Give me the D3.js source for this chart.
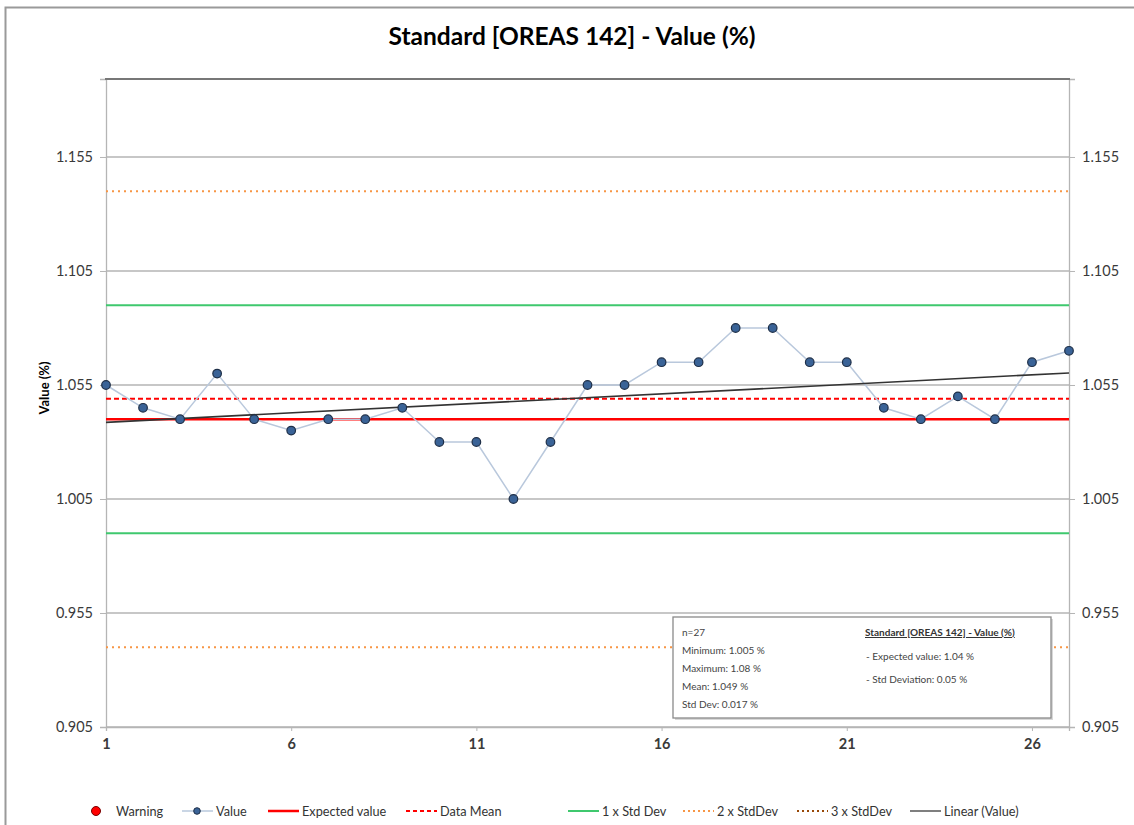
<!DOCTYPE html>
<html>
<head>
<meta charset="utf-8">
<script src="https://cdn.jsdelivr.net/npm/d3@7"></script>
<style>
  body { margin: 0; background: #fff; }
  text { font-family: Lato, "Open Sans", sans-serif; }
</style>
</head>
<body>
<figure id="qc" style="margin:0"></figure>
<script>
// sample number and assay value (%)
const samples = d3.range(1, 28);
const values = [1.055, 1.045, 1.04, 1.06, 1.04, 1.035, 1.04, 1.04, 1.045, 1.03,
  1.03, 1.005, 1.03, 1.055, 1.055, 1.065, 1.065, 1.08, 1.08, 1.065,
  1.065, 1.045, 1.04, 1.05, 1.04, 1.065, 1.07];
const expected = 1.04;
const stdDev = 0.05;
const dataMean = 1.049;
const yTicks = [0.905, 0.955, 1.005, 1.055, 1.105, 1.155];
const xTicks = [1, 6, 11, 16, 21, 26];
const statsLines = ["n=27", "Minimum: 1.005 %", "Maximum: 1.08 %", "Mean: 1.049 %", "Std Dev: 0.017 %"];
const stdLines = ["- Expected value: 1.04 %", "- Std Deviation: 0.05 %"];
const legendNames = ["Warning", "Value", "Expected value", "Data Mean", "1 x Std Dev", "2 x StdDev", "3 x StdDev", "Linear (Value)"];

const W = 1134, H = 825;
const mLeft = 106, mRight = 1069, mTop = 79, mBottom = 727;

const svg = d3.select("figure#qc").append("svg")
  .attr("width", W).attr("height", H);

// outer frame
svg.append("path").attr("d", `M5.5,${H} V7.5 H${W}`)
  .attr("fill", "none").attr("stroke", "#9a9a9a").attr("stroke-width", 2);

const x = d3.scaleLinear().domain([1, 27]).range([mLeft, mRight]);
const y = d3.scaleLinear().domain([0.905, 1.1892]).range([mBottom, mTop]);

// title
svg.append("text").attr("x", 572).attr("y", 45).attr("text-anchor", "middle")
  .style("font-size", "24.5px").style("font-weight", "bold").text("Standard [OREAS 142] - Value (%)");

// grid
svg.append("g").selectAll("line").data(yTicks).enter().append("line")
  .attr("x1", mLeft).attr("x2", mRight)
  .attr("y1", d => y(d)).attr("y2", d => y(d))
  .attr("stroke", "#b5b5b5").attr("stroke-width", 1.3);

// axes
const fmt = d3.format(".3f");
const yl = svg.append("g").attr("transform", `translate(${mLeft},0)`)
  .call(d3.axisLeft(y).tickValues(yTicks).tickFormat(fmt).tickSize(6).tickPadding(7));
const yr = svg.append("g").attr("transform", `translate(${mRight},0)`)
  .call(d3.axisRight(y).tickValues(yTicks).tickFormat(fmt).tickSize(6).tickPadding(7));
const xa = svg.append("g").attr("transform", `translate(0,${mBottom})`)
  .call(d3.axisBottom(x).tickValues(xTicks).tickFormat(d3.format("d")).tickSize(4).tickPadding(8));
[yl, yr, xa].forEach(g => {
  g.select(".domain").attr("stroke", "#b5b5b5").attr("stroke-width", 1.3);
  g.selectAll(".tick line").attr("stroke", "#b5b5b5");
  g.selectAll("text").style("font-size", "14.5px").attr("fill", "#3a3a3a");
});
xa.selectAll("text").style("font-weight", "bold");
svg.append("line").attr("x1", mLeft - 1).attr("x2", mRight + 1).attr("y1", mTop).attr("y2", mTop)
  .attr("stroke", "#777").attr("stroke-width", 2);

svg.append("text").attr("transform", "translate(49,388) rotate(-90)")
  .attr("text-anchor", "middle").style("font-size", "13px").style("font-weight", "bold")
  .text("Value (%)");

// reference lines
const refs = [
  { v: expected + stdDev * 2, c: "#f79646", w: 2, dash: "2,4" },
  { v: expected - stdDev * 2, c: "#f79646", w: 2, dash: "2,4" },
  { v: expected + stdDev, c: "#3fc86e", w: 2, dash: null },
  { v: expected - stdDev, c: "#3fc86e", w: 2, dash: null },
  { v: dataMean, c: "#ff0000", w: 2, dash: "5,3" },
  { v: expected, c: "#ff0000", w: 2.5, dash: null }
];
svg.append("g").selectAll("line").data(refs).enter().append("line")
  .attr("x1", mLeft).attr("x2", mRight)
  .attr("y1", d => y(d.v)).attr("y2", d => y(d.v))
  .attr("stroke", d => d.c).attr("stroke-width", d => d.w)
  .attr("stroke-dasharray", d => d.dash);

// value series
const pts = samples.map((s, i) => [s, values[i]]);
svg.append("path").datum(pts)
  .attr("d", d3.line().x(d => x(d[0])).y(d => y(d[1])))
  .attr("fill", "none").attr("stroke", "#b9c8dc").attr("stroke-width", 1.5);

// linear trend
const mx = d3.mean(samples), my = d3.mean(values);
const slope = d3.sum(pts, d => (d[0] - mx) * (d[1] - my)) / d3.sum(samples, s => (s - mx) ** 2);
const icpt = my - slope * mx;
svg.append("line")
  .attr("x1", x(1)).attr("y1", y(icpt + slope * 1))
  .attr("x2", x(27)).attr("y2", y(icpt + slope * 27))
  .attr("stroke", "#333").attr("stroke-width", 1.6);

svg.append("g").selectAll("circle").data(pts).enter().append("circle")
  .attr("cx", d => x(d[0])).attr("cy", d => y(d[1])).attr("r", 4.3)
  .attr("fill", "#3a6397").attr("stroke", "#1e2f48").attr("stroke-width", 1.2);

// stats box
const box = svg.append("g");
box.append("rect").attr("x", 675).attr("y", 619).attr("width", 378).attr("height", 101)
  .attr("fill", "#d8d8d8");
box.append("rect").attr("x", 673).attr("y", 617).attr("width", 378).attr("height", 101)
  .attr("fill", "#fff").attr("stroke", "#8a8a8a").attr("stroke-width", 1.3);
box.selectAll("text.s").data(statsLines).enter().append("text")
  .attr("x", 682).attr("y", (d, i) => 636 + i * 18)
  .style("font-size", "10px").attr("fill", "#444").text(d => d);
box.append("text").attr("x", 865).attr("y", 636)
  .style("font-size", "10px").style("font-weight", "bold").style("text-decoration", "underline")
  .attr("fill", "#333").text("Standard [OREAS 142] - Value (%)");
box.selectAll("text.r").data(stdLines).enter().append("text")
  .attr("x", 866).attr("y", (d, i) => 660 + i * 23)
  .style("font-size", "10px").attr("fill", "#444").text(d => d);

// legend
const lx = [96, 182, 268, 406, 568, 683, 797, 910];
const ly = 811;
const lg = svg.append("g");
legendNames.forEach((name, i) => {
  const g = lg.append("g").attr("transform", `translate(${lx[i]},${ly})`);
  let tx = 32;
  if (i === 0) {
    g.append("circle").attr("cx", 0).attr("cy", 0).attr("r", 4.5)
      .attr("fill", "#ff0000").attr("stroke", "#700").attr("stroke-width", 1);
    tx = 20;
  } else {
    const st = [null,
      { c: "#b9c8dc", w: 1.5, d: null },
      { c: "#ff0000", w: 2.5, d: null },
      { c: "#ff0000", w: 2, d: "4,3" },
      { c: "#3fc86e", w: 2, d: null },
      { c: "#f79646", w: 2, d: "2,3" },
      { c: "#984807", w: 2, d: "2,3" },
      { c: "#555", w: 1.5, d: null }][i];
    g.append("line").attr("x1", 0).attr("x2", 31).attr("y1", 0).attr("y2", 0)
      .attr("stroke", st.c).attr("stroke-width", st.w).attr("stroke-dasharray", st.d);
    if (i === 1) {
      g.append("circle").attr("cx", 15).attr("cy", 0).attr("r", 3.3)
        .attr("fill", "#3a6397").attr("stroke", "#1e2f48").attr("stroke-width", 1);
    }
    tx = 34;
  }
  g.append("text").attr("x", tx).attr("y", 4.5).style("font-size", "12.7px")
    .attr("fill", "#333").text(name);
});
</script>
</body>
</html>
